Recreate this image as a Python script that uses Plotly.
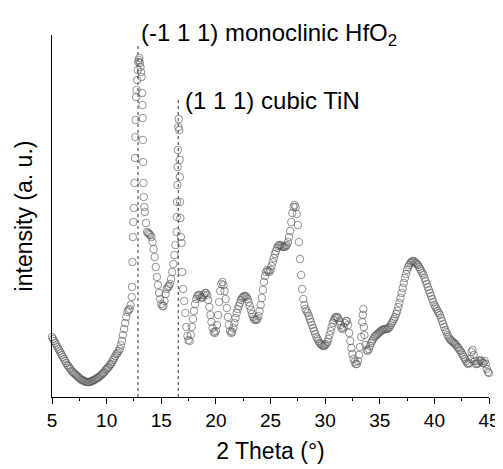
import numpy as np
import plotly.graph_objects as go

# 2 Theta grid (degrees) and intensity (arbitrary units)
theta_start, theta_stop, theta_step = 5.0, 45.0, 0.1
intensity = [
    60, 58, 56, 54, 52, 50, 48, 46, 44, 42,
    40, 38, 36, 34, 32, 31, 29, 28, 26, 25,
    24, 23, 22, 21, 20, 19, 18, 17, 17, 16,
    16, 15, 15, 15, 15, 15, 16, 16, 17, 17,
    18, 19, 19, 20, 21, 22, 23, 24, 25, 27,
    28, 29, 30, 32, 33, 35, 37, 39, 41, 43,
    44, 46, 48, 52, 56, 62, 68, 74, 80, 85,
    87, 88, 92, 100, 160, 189, 239, 300, 317, 335,
    339, 330, 320, 279, 200, 185, 174, 165, 164, 163,
    162, 160, 155, 148, 140, 130, 120, 112, 104, 98,
    93, 91, 91, 96, 103, 108, 110, 111, 113, 118,
    125, 133, 142, 152, 165, 230, 278, 220, 160, 125,
    108, 96, 84, 70, 61, 57, 56, 62, 70, 78,
    86, 93, 98, 101, 102, 102, 100, 99, 100, 102,
    104, 104, 102, 97, 90, 82, 75, 69, 65, 64,
    66, 72, 82, 95, 106, 113, 115, 112, 106, 98,
    89, 80, 72, 66, 64, 65, 69, 74, 79, 84,
    88, 91, 94, 97, 99, 100, 101, 101, 100, 98,
    95, 91, 87, 83, 80, 78, 77, 77, 78, 81,
    86, 92, 99, 107, 115, 121, 125, 127, 126, 125,
    127, 131, 135, 139, 143, 146, 149, 151, 152, 152,
    151, 150, 150, 150, 151, 152, 155, 160, 166, 175,
    184, 190, 192, 190, 183, 172, 155, 138, 122, 108,
    98, 92, 88, 86, 84, 81, 78, 75, 72, 69,
    66, 63, 60, 58, 56, 54, 53, 52, 51, 51,
    52, 53, 55, 58, 62, 66, 70, 74, 77, 79,
    80, 80, 79, 76, 72, 69, 68, 70, 74, 76,
    76, 72, 64, 56, 49, 43, 38, 35, 33, 33,
    36, 42, 50, 60, 75, 88, 62, 52, 47, 46,
    48, 51, 54, 56, 58, 60, 61, 62, 63, 64,
    65, 66, 67, 67, 68, 68, 68, 68, 69, 70,
    72, 74, 76, 78, 80, 83, 86, 90, 94, 99,
    104, 109, 114, 119, 123, 127, 130, 132, 134, 135,
    136, 136, 135, 134, 133, 132, 130, 128, 126, 124,
    122, 119, 116, 113, 110, 107, 104, 101, 98, 95,
    92, 90, 88, 86, 84, 82, 79, 76, 73, 70,
    67, 65, 62, 60, 58, 57, 56, 55, 54, 53,
    52, 50, 49, 47, 46, 44, 42, 40, 38, 36,
    34, 33, 34, 38, 45, 47, 42, 36, 33, 33,
    34, 36, 37, 36, 34, 34, 36, 33, 28, 25,
    24,
]

# extra (denser) measured points on the steep flanks of the sharp reflections
extra_theta = [12.33, 12.36, 12.45, 12.55, 12.63, 12.66, 12.74, 12.85, 12.93,
               13.05, 13.15, 13.25, 13.28, 13.32, 13.34, 13.37, 13.45,
               16.42, 16.45, 16.48, 16.52, 16.56,
               16.65, 16.68, 16.72, 16.75, 16.85,
               33.45, 33.55]
extra_intensity = [110, 135, 175, 214, 260, 277, 307, 327, 337,
                   334, 325, 304, 292, 257, 235, 214, 190,
                   180, 195, 212, 247, 270,
                   267, 237, 195, 179, 154,
                   82, 70]

# reflection markers
reflection_theta = [12.87, 16.56]
reflection_top = [352, 297]
reflection_labels = ["(-1 1 1) monoclinic HfO<sub>2</sub>", "(1 1 1) cubic TiN"]
label_pos = [(12.96, 363), (17.0, 296)]

x_ticks = [5, 10, 15, 20, 25, 30, 35, 40, 45]

Y_MAX = 362

grid = np.round(np.arange(theta_start, theta_stop + theta_step / 2, theta_step), 2)
assert len(grid) == len(intensity)
x_all = np.concatenate([grid, np.array(extra_theta)])
y_all = np.concatenate([np.array(intensity, float), np.array(extra_intensity, float)])
order = np.argsort(x_all)
x_all, y_all = x_all[order], y_all[order]

FONT = "Arial, Liberation Sans, sans-serif"

fig = go.Figure()
fig.add_trace(go.Scatter(
    x=x_all, y=y_all, mode="markers",
    marker=dict(symbol="circle-open", size=7.5, color="rgba(85,85,85,0.8)",
                line=dict(width=0.8)),
    showlegend=False, cliponaxis=False,
))

for xt, top in zip(reflection_theta, reflection_top):
    fig.add_shape(type="line", xref="x", yref="y", x0=xt, x1=xt, y0=0, y1=top,
                  line=dict(color="#555", width=1.2, dash="dot"), layer="below")

for text, (lx, ly) in zip(reflection_labels, label_pos):
    fig.add_annotation(x=lx, y=ly / Y_MAX, xref="x", yref="paper", text=text,
                       showarrow=False, xanchor="left", yanchor="middle",
                       font=dict(family=FONT, size=24, color="black"))

# the page adds an 8px body margin, so the figure is sized to fit inside it
fig.update_layout(
    width=495, height=461,
    margin=dict(l=44, r=14, t=27, b=72),
    paper_bgcolor="white", plot_bgcolor="white",
    font=dict(family=FONT, color="black"),
)
fig.update_xaxes(
    range=[5, 45], showgrid=False, zeroline=False, automargin=False,
    showline=True, linecolor="black", linewidth=1.3,
    ticks="outside", ticklen=6, tickwidth=1.3, tickcolor="black",
    tickvals=x_ticks, ticktext=[str(v) for v in x_ticks],
    tickfont=dict(family=FONT, size=19),
    minor=dict(ticks="outside", ticklen=3, tickwidth=1.2, tickcolor="black",
               tick0=2.5, dtick=5),
    title=dict(text="2 Theta (°)", font=dict(family=FONT, size=23), standoff=12),
)
fig.update_yaxes(
    range=[0, Y_MAX], showgrid=False, zeroline=False, automargin=False,
    showline=True, linecolor="black", linewidth=1.3,
    ticks="", showticklabels=False,
    title=dict(text="intensity (a. u.)", font=dict(family=FONT, size=23), standoff=11),
)

fig.write_html("out.html")
